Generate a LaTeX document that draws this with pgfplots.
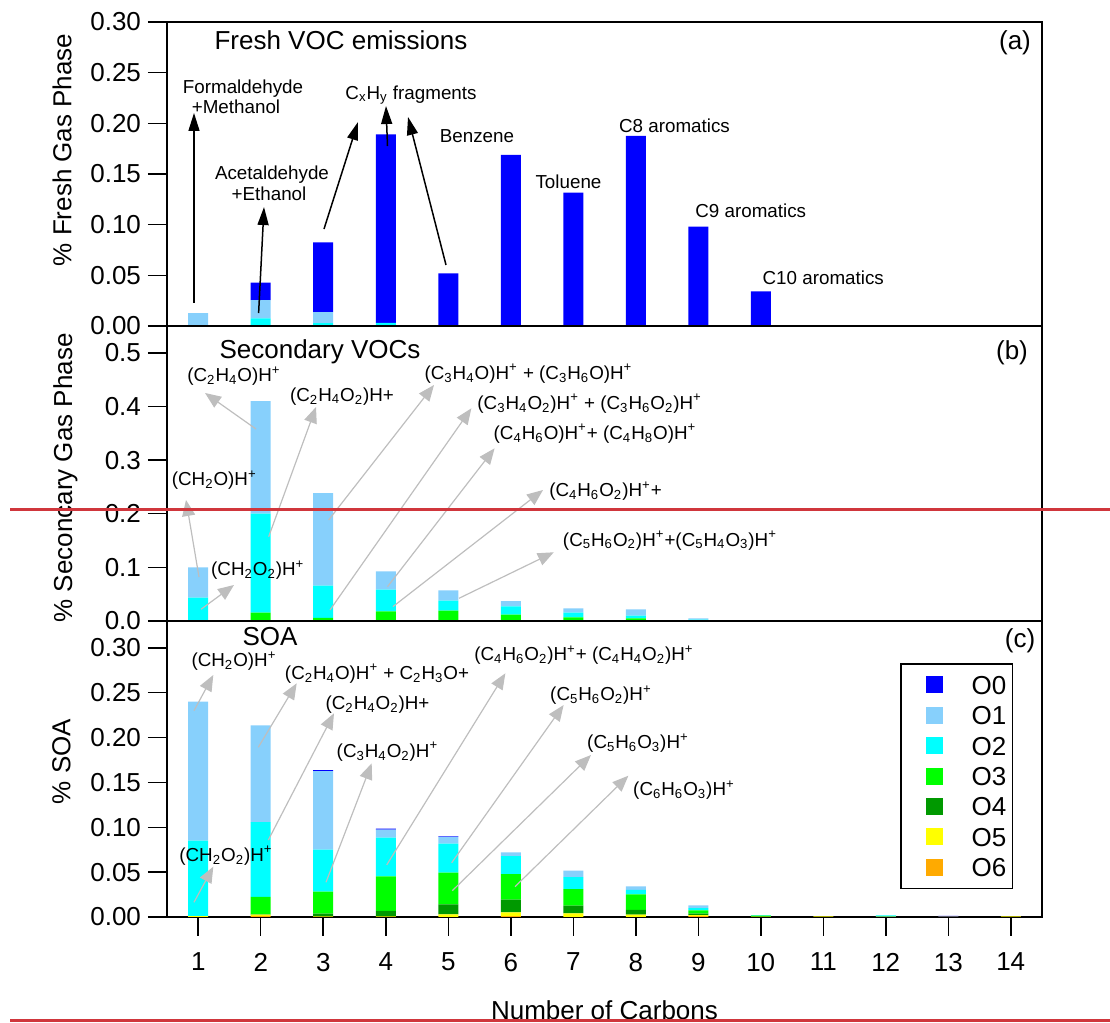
\documentclass[border=0pt]{standalone}
\usepackage{pgfplots}
\pgfplotsset{compat=1.18}
\usepackage{pgfplotstable}
\usepackage{fontspec}
\setmainfont{Liberation Sans}
\usetikzlibrary{arrows.meta}

\definecolor{cO0}{RGB}{0,0,255}
\definecolor{cO1}{RGB}{135,208,252}
\definecolor{cO2}{RGB}{0,255,255}
\definecolor{cO3}{RGB}{0,255,0}
\definecolor{cO4}{RGB}{0,153,0}
\definecolor{cO5}{RGB}{255,255,0}
\definecolor{cO6}{RGB}{255,170,0}
\definecolor{garr}{RGB}{190,190,190}
\definecolor{redline}{RGB}{208,54,60}

\newcommand{\sub}[1]{\textsubscript{#1}}
\newcommand{\Hp}{H\textsuperscript{+}}

\pgfplotstableread{
x O0 O1 O2 O3 O4 O5 O6
1 0 0.0123 0 0.0005 0 0 0
2 0.0174 0.0178 0.0071 0.0005 0 0 0
3 0.0688 0.0111 0.0022 0.0005 0 0 0
4 0.186 0 0.0025 0.0005 0 0 0
5 0.0515 0 0 0.0005 0 0 0
6 0.1683 0 0 0.0005 0 0 0
7 0.131 0 0 0.0005 0 0 0
8 0.187 0 0 0.0005 0 0 0
9 0.0975 0 0 0.0005 0 0 0
10 0.0337 0 0 0.0005 0 0 0
11 0 0 0 0.0008 0 0 0
12 0 0 0 0.0008 0 0 0
13 0 0 0 0.0008 0 0 0
14 0 0 0 0.0008 0 0 0
}\fresh

\pgfplotstableread{
x O0 O1 O2 O3 O4 O5 O6
1 0 0.0564 0.0436 0 0 0 0
2 0 0.2097 0.1844 0.0156 0 0 0
3 0 0.1725 0.0603 0.0056 0 0 0
4 0 0.0341 0.0404 0.0180 0 0 0
5 0 0.0192 0.0186 0.0194 0 0 0
6 0 0.0098 0.0157 0.0097 0.0020 0 0
7 0 0.0081 0.0086 0.0069 0 0 0
8 0 0.0120 0.0048 0.0050 0 0 0
9 0 0.0025 0.0010 0.0015 0 0 0
10 0 0 0 0.0008 0 0 0
11 0 0 0 0.0006 0 0 0
12 0 0 0 0.0006 0 0 0
13 0 0 0 0.0006 0 0 0
14 0 0 0 0.0006 0 0 0
}\secvoc

\pgfplotstableread{
x O0 O1 O2 O3 O4 O5 O6
1 0 0.1550 0.0840 0 0 0.0010 0
2 0 0.1077 0.0835 0.0193 0.0005 0.0013 0.0012
3 0.0010 0.0876 0.0467 0.0245 0.0030 0.0008 0
4 0.0010 0.0090 0.0431 0.0386 0.0059 0.0008 0
5 0.0005 0.0077 0.0323 0.0353 0.0111 0.0030 0
6 0 0.0041 0.0200 0.0285 0.0142 0.0042 0.0010
7 0 0.0072 0.0133 0.0185 0.0086 0.0041 0
8 0 0.0041 0.0048 0.0175 0.0051 0.0027 0
9 0 0.0030 0.0025 0.0037 0.0018 0.0010 0.0010
10 0 0 0.0005 0.0012 0 0.0003 0
11 0 0 0 0 0 0.0006 0
12 0 0 0.0014 0 0 0.0003 0
13 0.0008 0 0 0 0 0.0003 0
14 0 0 0 0 0 0.0006 0
}\soa

\pgfplotsset{
  geom/.style={
    scale only axis, width=437.5pt, anchor=north west,
    xmin=0.5, xmax=14.5, ymin=0, clip=false,
  },
  panel/.style={
    geom,
    ybar stacked, bar width=0.32,
    axis line style={line width=0.75pt},
    every tick/.style={line width=0.75pt, black},
    major tick length=9.5pt, tick align=outside,
    tick pos=left,
    tick label style={font=\fontsize{13}{15}\selectfont},
    xticklabel style={yshift=-5pt},
    /pgf/number format/assume math mode=true,
    label style={font=\fontsize{13}{15}\selectfont},
  },
  over/.style={geom, hide axis},
}
\tikzset{
  ann/.style={font=\fontsize{9.4}{11}\selectfont, inner sep=0pt, anchor=base},
  big/.style={font=\fontsize{13}{15}\selectfont, inner sep=0pt, anchor=base},
  blk/.style={-{Triangle[length=9pt,width=5.5pt]}, line width=0.75pt, black},
  gar/.style={-{Triangle[length=8pt,width=6.5pt]}, line width=0.6pt, garr},
}

\begin{document}
\begin{tikzpicture}
\path[use as bounding box] (0,0) rectangle (555pt,511.5pt);

% ---------------- panel (a)
\begin{axis}[panel, at={(83.5pt,500.5pt)}, height=152pt, ymax=0.30,
  xtick=\empty, ytick={0,0.05,0.1,0.15,0.2,0.25,0.3},
  yticklabel style={/pgf/number format/.cd, fixed, fixed zerofill, precision=2},
  ylabel={\% Fresh Gas Phase},
  ylabel style={at={(rel axis cs:-0.12,0.579)}, anchor=center}]
\addplot[fill=cO6, draw=none] table[x=x,y=O6]{\fresh};
\addplot[fill=cO5, draw=none] table[x=x,y=O5]{\fresh};
\addplot[fill=cO4, draw=none] table[x=x,y=O4]{\fresh};
\addplot[fill=cO3, draw=none] table[x=x,y=O3]{\fresh};
\addplot[fill=cO2, draw=none] table[x=x,y=O2]{\fresh};
\addplot[fill=cO1, draw=none] table[x=x,y=O1]{\fresh};
\addplot[fill=cO0, draw=none] table[x=x,y=O0]{\fresh};
\end{axis}
\begin{axis}[over, at={(83.5pt,500.5pt)}, height=152pt, ymax=0.30]
\node[big] at (axis cs:3.284,0.2724) {Fresh VOC emissions};
\node[big] at (axis cs:14.068,0.2724) {(a)};
\node[ann] at (axis cs:1.716,0.2299) {Formaldehyde};
\node[ann] at (axis cs:1.604,0.2099) {+Methanol};
\node[ann] at (axis cs:2.18,0.1441) {Acetaldehyde};
\node[ann] at (axis cs:2.132,0.1243) {+Ethanol};
\node[ann] at (axis cs:4.404,0.2237) {C\sub{x}H\sub{y} fragments};
\node[ann] at (axis cs:5.46,0.1806) {Benzene};
\node[ann] at (axis cs:6.924,0.1360) {Toluene};
\node[ann] at (axis cs:8.62,0.1905) {C8 aromatics};
\node[ann] at (axis cs:9.84,0.1066) {C9 aromatics};
\node[ann] at (axis cs:11.0,0.0405) {C10 aromatics};
\draw[blk] (axis cs:0.932,0.0227) -- (axis cs:0.932,0.2102);
\draw[blk] (axis cs:1.966,0.0128) -- (axis cs:2.052,0.1174);
\draw[blk] (axis cs:3.012,0.0957) -- (axis cs:3.556,0.2013);
\draw[blk] (axis cs:4.028,0.1776) -- (axis cs:4.004,0.2171);
\draw[blk] (axis cs:4.964,0.0602) -- (axis cs:4.356,0.2063);
\end{axis}

% ---------------- panel (b)
\begin{axis}[panel, at={(83.5pt,348.5pt)}, height=147.5pt, ymax=0.55,
  xtick=\empty, ytick={0,0.1,0.2,0.3,0.4,0.5},
  yticklabel style={/pgf/number format/.cd, fixed, fixed zerofill, precision=1},
  ylabel={\% Seconcary Gas Phase},
  ylabel style={at={(rel axis cs:-0.116,0.485)}, anchor=center}]
\addplot[fill=cO6, draw=none] table[x=x,y=O6]{\secvoc};
\addplot[fill=cO5, draw=none] table[x=x,y=O5]{\secvoc};
\addplot[fill=cO4, draw=none] table[x=x,y=O4]{\secvoc};
\addplot[fill=cO3, draw=none] table[x=x,y=O3]{\secvoc};
\addplot[fill=cO2, draw=none] table[x=x,y=O2]{\secvoc};
\addplot[fill=cO1, draw=none] table[x=x,y=O1]{\secvoc};
\addplot[fill=cO0, draw=none] table[x=x,y=O0]{\secvoc};
\end{axis}
\begin{axis}[over, at={(83.5pt,348.5pt)}, height=147.5pt, ymax=0.55]
\node[big] at (axis cs:2.948,0.4903) {Secondary VOCs};
\node[big] at (axis cs:14.02,0.4866) {(b)};
\node[ann] at (axis cs:1.257,0.2522) {(CH\sub{2}O)\Hp};
\node[ann] at (axis cs:1.953,0.0839) {(CH\sub{2}O\sub{2})\Hp};
\node[ann] at (axis cs:1.572,0.4462) {(C\sub{2}H\sub{4}O)\Hp};
\node[ann] at (axis cs:3.3,0.4101) {(C\sub{2}H\sub{4}O\sub{2})H+};
\node[ann] at (axis cs:6.284,0.4506) {(C\sub{3}H\sub{4}O)\Hp{} + (C\sub{3}H\sub{6}O)\Hp};
\node[ann] at (axis cs:7.263,0.3947) {(C\sub{3}H\sub{4}O\sub{2})\Hp{} + (C\sub{3}H\sub{6}O\sub{2})\Hp};
\node[ann] at (axis cs:7.348,0.3387) {(C\sub{4}H\sub{6}O)\Hp+ (C\sub{4}H\sub{8}O)\Hp};
\node[ann] at (axis cs:7.516,0.2318) {(C\sub{4}H\sub{6}O\sub{2})\Hp+};
\node[ann] at (axis cs:8.548,0.1398) {(C\sub{5}H\sub{6}O\sub{2})\Hp+(C\sub{5}H\sub{4}O\sub{3})\Hp};
\draw[gar] (axis cs:1.012,0.0820) -- (axis cs:0.804,0.2256);
\draw[gar] (axis cs:1.044,0.0218) -- (axis cs:1.572,0.0671);
\draw[gar] (axis cs:1.924,0.3579) -- (axis cs:1.108,0.4251);
\draw[gar] (axis cs:2.127,0.1572) -- (axis cs:2.884,0.3990);
\draw[gar] (axis cs:3.086,0.1883) -- (axis cs:4.772,0.4400);
\draw[gar] (axis cs:3.108,0.0205) -- (axis cs:5.370,0.3965);
\draw[gar] (axis cs:4.028,0.0639) -- (axis cs:5.742,0.3220);
\draw[gar] (axis cs:4.114,0.0267) -- (axis cs:6.516,0.2442);
\draw[gar] (axis cs:5.172,0.0423) -- (axis cs:6.689,0.1281);
\end{axis}

% ---------------- panel (c)
\begin{axis}[panel, at={(83.5pt,201pt)}, height=148pt, ymax=0.33,
  xtick={1,2,...,14}, ytick={0,0.05,0.1,0.15,0.2,0.25,0.3},
  yticklabel style={/pgf/number format/.cd, fixed, fixed zerofill, precision=2},
  ylabel={\% SOA},
  ylabel style={at={(rel axis cs:-0.1206,0.525)}, anchor=center},
  xlabel={Number of Carbons},
  xlabel style={at={(rel axis cs:0.5,-0.345)}, anchor=base},
  reverse legend,
  legend cell align=left,
  legend image code/.code={
    \fill[white, opacity=0] (-9.25pt,-1pt) rectangle (0pt,1pt);
    \fill[#1,draw=none] (0pt,-4.25pt) rectangle (8.5pt,4.25pt);
    \fill[white, opacity=0] (8.5pt,-1pt) rectangle (22.75pt,1pt);},
  legend style={at={(rel axis cs:0.9674,0.858)}, anchor=north east,
    draw=black, line width=0.75pt, inner xsep=3.25pt, inner ysep=5.85pt,
    row sep=5.8pt, font=\fontsize{13}{15}\selectfont,
    nodes={inner sep=0pt, text height=9.4pt, text depth=0pt}}]
\addplot[fill=cO6, draw=none] table[x=x,y=O6]{\soa};
\addplot[fill=cO5, draw=none] table[x=x,y=O5]{\soa};
\addplot[fill=cO4, draw=none] table[x=x,y=O4]{\soa};
\addplot[fill=cO3, draw=none] table[x=x,y=O3]{\soa};
\addplot[fill=cO2, draw=none] table[x=x,y=O2]{\soa};
\addplot[fill=cO1, draw=none] table[x=x,y=O1]{\soa};
\addplot[fill=cO0, draw=none] table[x=x,y=O0]{\soa};
\legend{O6,O5,O4,O3,O2,O1,O0}
\end{axis}
\begin{axis}[over, at={(83.5pt,201pt)}, height=148pt, ymax=0.33]
\node[big] at (axis cs:2.148,0.3032) {SOA};
\node[big] at (axis cs:14.148,0.2999) {(c)};
\node[ann] at (axis cs:1.572,0.279) {(CH\sub{2}O)\Hp};
\node[ann] at (axis cs:1.444,0.0617) {(CH\sub{2}O\sub{2})\Hp};
\node[ann] at (axis cs:3.86,0.265) {(C\sub{2}H\sub{4}O)\Hp{} + C\sub{2}H\sub{3}O+};
\node[ann] at (axis cs:3.868,0.2315) {(C\sub{2}H\sub{4}O\sub{2})H+};
\node[ann] at (axis cs:4.028,0.178) {(C\sub{3}H\sub{4}O\sub{2})\Hp};
\node[ann] at (axis cs:7.172,0.2857) {(C\sub{4}H\sub{6}O\sub{2})\Hp+ (C\sub{4}H\sub{4}O\sub{2})\Hp};
\node[ann] at (axis cs:7.444,0.2411) {(C\sub{5}H\sub{6}O\sub{2})\Hp};
\node[ann] at (axis cs:8.036,0.1873) {(C\sub{5}H\sub{6}O\sub{3})\Hp};
\node[ann] at (axis cs:8.772,0.1352) {(C\sub{6}H\sub{6}O\sub{3})\Hp};
\draw[gar] (axis cs:0.932,0.2300) -- (axis cs:1.241,0.2698);
\draw[gar] (axis cs:0.932,0.0164) -- (axis cs:1.241,0.0561);
\draw[gar] (axis cs:1.961,0.1892) -- (axis cs:2.575,0.2605);
\draw[gar] (axis cs:2.121,0.0858) -- (axis cs:3.172,0.2271);
\draw[gar] (axis cs:3.044,0.0387) -- (axis cs:3.775,0.1713);
\draw[gar] (axis cs:4.015,0.0580) -- (axis cs:5.914,0.2717);
\draw[gar] (axis cs:5.055,0.0605) -- (axis cs:6.846,0.2363);
\draw[gar] (axis cs:5.065,0.0293) -- (axis cs:7.284,0.1806);
\draw[gar] (axis cs:6.068,0.0338) -- (axis cs:7.882,0.1575);
\end{axis}

\draw[redline, line width=1.5pt] (5pt,256.5pt) -- (555pt,256.5pt);
\draw[redline, line width=1.5pt] (5pt,1.25pt) -- (555pt,1.25pt);
\end{tikzpicture}
\end{document}
